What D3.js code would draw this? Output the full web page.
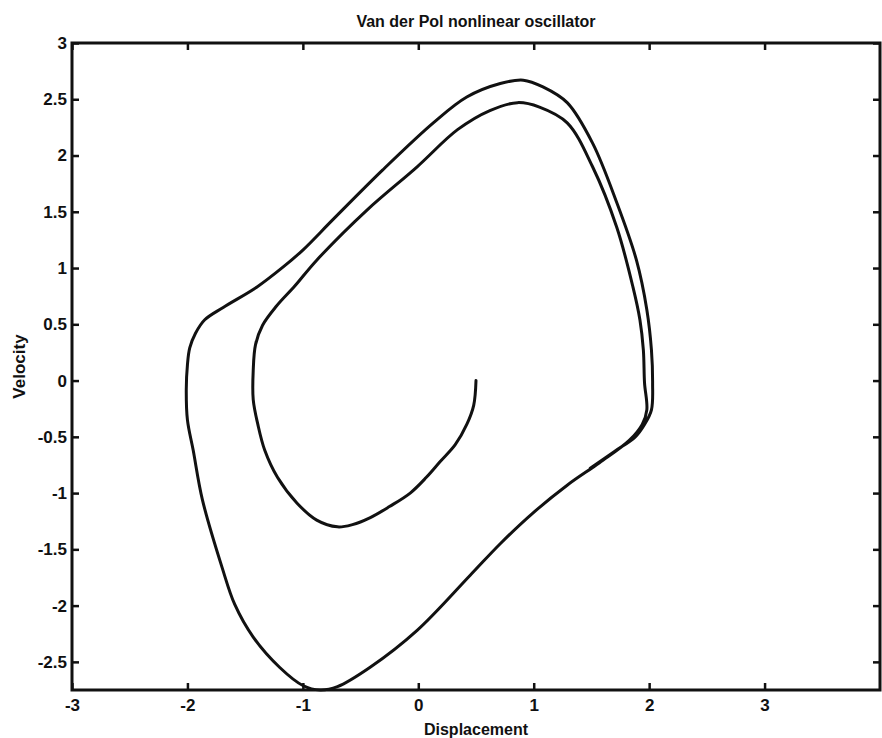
<!DOCTYPE html>
<html>
<head>
<meta charset="utf-8">
<script src="https://cdn.jsdelivr.net/npm/d3@7"></script>
<style>
  html, body { margin: 0; padding: 0; background: #fff; }
  svg { display: block; }
  text { font-family: "Liberation Sans", Arial, sans-serif; font-weight: bold; fill: #111; }
</style>
</head>
<body>
<svg id="chart" width="882" height="738"></svg>
<script>
// ---- Data ----
const titleText = "Van der Pol nonlinear oscillator";
const xLabel = "Displacement";
const yLabel = "Velocity";
const xTicks = [-3, -2, -1, 0, 1, 2, 3];
const yTicks = [-2.5, -2, -1.5, -1, -0.5, 0, 0.5, 1, 1.5, 2, 2.5, 3];
const xDomain = [-3, 4];
const yDomain = [-2.75, 3];

// trajectory: displacement values
const displacement = [
  0.50, 0.48, 0.42, 0.32, 0.19, 0.07, -0.07, -0.25, -0.42, -0.57, -0.70, -0.88, -1.05, -1.22,
  -1.33, -1.39, -1.43, -1.43, -1.41, -1.35, -1.23, -1.07, -0.88, -0.44, -0.01, 0.34, 0.62, 0.86,
  1.05, 1.29, 1.51, 1.72, 1.86, 1.92, 1.95, 1.96, 1.98, 1.94, 1.83, 1.57, 1.29, 0.99, 0.71, 0.45,
  -0.01, -0.42, -0.70, -0.85, -1.00, -1.20, -1.43, -1.59, -1.70, -1.87, -1.95, -2.00, -2.01, -2.00,
  -1.98, -1.93, -1.85, -1.69, -1.40, -1.17, -1.00, -0.74, -0.31, 0.13, 0.42, 0.71, 0.91, 1.08,
  1.29, 1.51, 1.72, 1.89, 1.98, 2.02, 2.03, 2.02, 1.96, 1.88, 1.70, 1.49
];
// trajectory: velocity values
const velocity = [
  0.00, -0.22, -0.39, -0.57, -0.72, -0.86, -1.00, -1.12, -1.22, -1.28, -1.30, -1.24, -1.09, -0.86,
  -0.62, -0.39, -0.17, 0.09, 0.32, 0.49, 0.66, 0.84, 1.07, 1.52, 1.90, 2.23, 2.40, 2.47,
  2.43, 2.29, 1.90, 1.36, 0.83, 0.54, 0.27, -0.02, -0.26, -0.39, -0.53, -0.73, -0.93, -1.18, -1.45, -1.73,
  -2.22, -2.55, -2.72, -2.75, -2.71, -2.55, -2.28, -1.99, -1.66, -1.06, -0.62, -0.35, -0.08, 0.14,
  0.29, 0.42, 0.54, 0.65, 0.83, 1.01, 1.16, 1.43, 1.87, 2.29, 2.52, 2.64, 2.67, 2.61,
  2.47, 2.11, 1.58, 1.07, 0.63, 0.27, -0.02, -0.26, -0.39, -0.50, -0.63, -0.78
];

// ---- Layout ----
const svg = d3.select("#chart");
const mLeft = 72, mRight = 880, mTop = 43, mBottom = 690;

const x = d3.scaleLinear().domain(xDomain).range([mLeft, mRight]);
const y = d3.scaleLinear().domain(yDomain).range([mBottom, mTop]);

const fmt = d => String(d);
const styleText = g => g.selectAll("text")
  .attr("font-size", 17)
  .attr("font-family", "Liberation Sans, Arial, sans-serif")
  .attr("font-weight", "bold")
  .attr("fill", "#111");
const styleLines = g => g.selectAll("line").attr("stroke", "#111").attr("stroke-width", 2.5);

// inward ticks on all four sides
svg.append("g").attr("transform", `translate(0,${mBottom})`)
  .call(d3.axisBottom(x).tickValues(xTicks).tickFormat(fmt).tickSizeInner(-7).tickSizeOuter(0).tickPadding(9))
  .call(g => g.select(".domain").remove())
  .call(styleLines).call(styleText);

svg.append("g").attr("transform", `translate(0,${mTop})`)
  .call(d3.axisTop(x).tickValues(xTicks).tickFormat("").tickSizeInner(-7).tickSizeOuter(0))
  .call(g => g.select(".domain").remove())
  .call(styleLines);

svg.append("g").attr("transform", `translate(${mLeft},0)`)
  .call(d3.axisLeft(y).tickValues(yTicks).tickFormat(fmt).tickSizeInner(-7).tickSizeOuter(0).tickPadding(5))
  .call(g => g.select(".domain").remove())
  .call(styleLines).call(styleText);

svg.append("g").attr("transform", `translate(${mRight},0)`)
  .call(d3.axisRight(y).tickValues(yTicks).tickFormat("").tickSizeInner(-7).tickSizeOuter(0))
  .call(g => g.select(".domain").remove())
  .call(styleLines);

// frame
svg.append("rect")
  .attr("x", mLeft).attr("y", mTop)
  .attr("width", mRight - mLeft).attr("height", mBottom - mTop)
  .attr("fill", "none").attr("stroke", "#111").attr("stroke-width", 3);

// trajectory
const pts = displacement.map((d, i) => [d, velocity[i]]);
const line = d3.line().x(d => x(d[0])).y(d => y(d[1])).curve(d3.curveCatmullRom.alpha(0.5));
svg.append("path")
  .datum(pts)
  .attr("d", line)
  .attr("fill", "none")
  .attr("stroke", "#111")
  .attr("stroke-width", 3)
  .attr("stroke-linejoin", "round")
  .attr("stroke-linecap", "round");

// labels
svg.append("text").attr("x", (mLeft + mRight) / 2).attr("y", 27)
  .attr("text-anchor", "middle").attr("font-size", 16).text(titleText);

svg.append("text").attr("x", (mLeft + mRight) / 2).attr("y", 735)
  .attr("text-anchor", "middle").attr("font-size", 16).text(xLabel);

svg.append("text")
  .attr("transform", `translate(25,${(mTop + mBottom) / 2}) rotate(-90)`)
  .attr("text-anchor", "middle").attr("font-size", 17).text(yLabel);
</script>
</body>
</html>
